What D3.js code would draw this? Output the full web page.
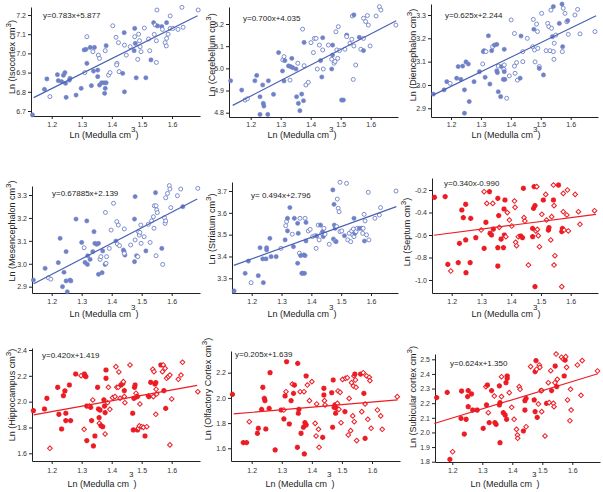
<!DOCTYPE html>
<html><head><meta charset="utf-8">
<script src="https://cdn.jsdelivr.net/npm/d3@7"></script>
<style>body{margin:0;background:#fff}svg{display:block}text{font-family:"Liberation Sans",Arial,sans-serif}</style>
</head><body><svg id="c" width="603" height="492"></svg>
<script>
// ---------------- DATA ----------------
const regions = ["Isocortex","Cerebellum","Diencephalon","Mesencephalon","Striatum","Septum","Hippocampus","Olfactory Cortex","Subicular cortex"];
const equations = ["y=0.783x+5.877","y=0.700x+4.035","y=0.625x+2.244","y=0.67885x+2.139","y= 0.494x+2.796","y=0.340x-0.990","y=0.420x+1.419","y=0.205x+1.639","y=0.624x+1.350"];
const slopes = [0.783,0.700,0.625,0.67885,0.494,0.340,0.420,0.205,0.624];
const intercepts = [5.877,4.035,2.244,2.139,2.796,-0.990,1.419,1.639,1.350];
const fitRange = [1.14,1.685];
const xTicks = [1.2,1.3,1.4,1.5,1.6];
const yTicks = [
 [6.7,6.8,6.9,7.0,7.1,7.2],[4.8,4.9,5.0,5.1,5.2],[2.9,3.0,3.1,3.2,3.3],
 [2.9,3.0,3.1,3.2,3.3],[3.3,3.4,3.5,3.6,3.7],[-1.0,-0.8,-0.6,-0.4,-0.2],
 [1.6,1.8,2.0,2.2,2.4],[1.6,1.8,2.0,2.2],[1.8,1.9,2.0,2.1,2.2,2.3,2.4,2.5]];
// points: [ln medulla, ln region, filled(1)/open(0)]
const isocortex = [[1.136,6.68,1],[1.176,6.813,1],[1.184,6.867,1],[1.194,6.775,0],[1.219,6.889,1],[1.222,6.858,1],[1.233,6.853,1],[1.239,6.886,1],[1.244,6.9,1],[1.246,6.844,1],[1.248,6.771,1],[1.259,6.861,1],[1.261,6.87,1],[1.281,6.783,1],[1.298,6.818,1],[1.31,6.9,0],[1.308,7.018,1],[1.314,7.021,1],[1.317,7.087,0],[1.317,6.948,1],[1.332,6.832,1],[1.328,7.031,1],[1.337,7.009,0],[1.342,7.031,1],[1.339,6.908,1],[1.353,6.913,1],[1.355,6.991,0],[1.359,6.974,0],[1.353,6.879,1],[1.359,6.835,1],[1.366,6.847,1],[1.374,6.847,1],[1.381,6.847,1],[1.378,7.014,0],[1.381,7.04,1],[1.378,6.818,1],[1.376,6.792,1],[1.389,6.887,0],[1.394,6.9,0],[1.403,7.144,0],[1.414,7.084,0],[1.417,6.948,0],[1.416,6.94,0],[1.422,7.056,0],[1.424,6.905,0],[1.436,6.896,1],[1.441,7.108,1],[1.442,6.8,1],[1.442,7.043,0],[1.448,6.991,0],[1.461,7.035,0],[1.476,7.13,1],[1.476,7.087,0],[1.474,7.014,1],[1.478,7.052,1],[1.481,6.873,1],[1.486,6.969,0],[1.489,7.1,0],[1.492,7.066,0],[1.494,7.035,0],[1.497,7.009,0],[1.508,7.132,0],[1.513,6.873,1],[1.522,7.075,0],[1.526,7.014,0],[1.53,6.966,1],[1.539,7.16,1],[1.541,7.099,0],[1.544,7.148,0],[1.55,7.226,0],[1.548,7.066,0],[1.548,6.953,0],[1.552,7.143,1],[1.566,7.14,1],[1.568,7.125,0],[1.577,7.056,0],[1.581,7.039,0],[1.582,7.078,0],[1.582,7.16,1],[1.587,7.1,0],[1.594,7.195,0],[1.594,7.13,0],[1.603,7.13,0],[1.62,7.125,0],[1.633,7.24,0],[1.637,7.136,0],[1.687,7.226,0]];
const cerebellum = [[1.133,4.944,1],[1.17,4.902,1],[1.181,4.857,0],[1.189,4.863,0],[1.214,4.944,1],[1.22,4.968,1],[1.231,4.872,1],[1.231,4.792,1],[1.24,4.925,1],[1.242,4.842,1],[1.244,4.83,1],[1.257,4.792,1],[1.259,4.944,1],[1.276,4.883,1],[1.293,5.071,1],[1.306,4.988,1],[1.307,5.038,0],[1.311,5.053,0],[1.311,4.943,1],[1.314,5.035,1],[1.326,5.011,1],[1.331,4.947,0],[1.333,5.008,1],[1.337,5.045,1],[1.34,5.003,1],[1.351,4.997,1],[1.353,4.872,1],[1.357,5.023,0],[1.359,4.842,1],[1.364,4.809,1],[1.373,5.177,0],[1.37,4.884,1],[1.378,5.012,0],[1.378,5.117,1],[1.376,4.854,1],[1.384,4.925,0],[1.392,4.937,0],[1.401,5.116,0],[1.409,5.071,0],[1.412,5.135,0],[1.418,5.135,0],[1.422,4.997,0],[1.429,5.105,0],[1.433,5.035,1],[1.437,4.961,1],[1.44,5.138,1],[1.44,5.083,0],[1.442,4.997,0],[1.459,5.105,0],[1.47,4.997,1],[1.47,5.041,0],[1.473,5.06,1],[1.473,5.105,1],[1.478,5.023,0],[1.481,5.031,0],[1.484,5.165,0],[1.487,5.083,0],[1.49,5.045,0],[1.492,5.188,0],[1.496,5.08,0],[1.503,4.857,1],[1.509,4.857,1],[1.514,5.086,0],[1.52,5.15,1],[1.52,5.143,0],[1.531,5.113,0],[1.537,5.131,0],[1.539,5.236,0],[1.544,5.241,1],[1.542,4.95,0],[1.544,5.101,0],[1.55,5.015,0],[1.562,5.14,1],[1.567,5.086,0],[1.576,5.226,0],[1.576,5.08,1],[1.576,5.135,0],[1.583,5.211,0],[1.589,5.238,0],[1.592,5.195,0],[1.598,5.101,0],[1.618,5.236,0],[1.629,5.278,0],[1.634,5.263,0],[1.684,5.195,0]];
const diencephalon = [[1.141,2.961,1],[1.177,2.979,1],[1.186,3.014,1],[1.197,3.007,0],[1.219,3.029,1],[1.224,3.079,1],[1.233,3.024,1],[1.239,3.081,1],[1.245,2.979,1],[1.245,2.879,1],[1.25,3.099,1],[1.258,3.09,1],[1.261,2.929,1],[1.277,3.014,1],[1.295,3.057,1],[1.306,3.09,0],[1.308,3.143,1],[1.311,3.147,1],[1.314,3.033,1],[1.317,3.143,0],[1.325,3.211,1],[1.33,3.004,1],[1.336,3.147,1],[1.339,3.164,0],[1.345,3.171,1],[1.353,3.174,1],[1.353,3.061,1],[1.355,3.053,1],[1.358,3.081,0],[1.358,2.971,1],[1.366,2.95,1],[1.369,3.079,1],[1.375,3.024,1],[1.377,3.067,0],[1.378,3.086,0],[1.378,3.153,1],[1.378,3.057,1],[1.38,3.024,1],[1.386,2.943,0],[1.395,3.039,0],[1.401,3.279,0],[1.412,3.221,0],[1.412,3.081,0],[1.414,3.05,0],[1.419,3.096,0],[1.422,3.021,0],[1.431,3.029,1],[1.434,3.21,1],[1.44,3.1,0],[1.44,3.143,0],[1.455,3.2,0],[1.473,3.164,0],[1.475,3.281,0],[1.477,3.239,1],[1.479,3.15,0],[1.481,3.099,0],[1.486,3.261,0],[1.489,3.229,0],[1.49,3.157,0],[1.495,3.079,0],[1.495,3.071,1],[1.503,3.307,0],[1.509,3.043,1],[1.518,3.147,0],[1.523,3.264,0],[1.527,3.25,0],[1.531,3.147,0],[1.534,3.321,0],[1.536,3.243,0],[1.539,3.207,1],[1.542,3.336,1],[1.542,3.143,0],[1.544,3.11,0],[1.545,3.179,0],[1.55,3.214,0],[1.562,3.264,1],[1.571,3.347,1],[1.573,3.164,1],[1.572,3.143,0],[1.575,3.329,0],[1.581,3.307,0],[1.587,3.271,0],[1.59,3.276,1],[1.592,3.217,0],[1.614,3.3,0],[1.623,3.324,0],[1.631,3.219,0],[1.681,3.229,0]];
const mesencephalon = [[1.139,2.929,1],[1.178,2.98,1],[1.189,2.939,0],[1.197,2.933,0],[1.222,3.005,1],[1.228,3.111,1],[1.236,2.9,1],[1.241,2.963,1],[1.248,3.053,1],[1.248,2.925,1],[1.252,2.878,1],[1.261,2.929,1],[1.264,2.925,1],[1.281,3.195,1],[1.3,3.093,1],[1.308,3.07,0],[1.311,3.006,1],[1.317,3.187,1],[1.319,2.997,1],[1.32,3.035,1],[1.328,3.019,1],[1.337,3.053,1],[1.341,3.14,1],[1.344,3.089,1],[1.35,3.085,1],[1.356,3.089,1],[1.356,2.954,1],[1.361,3.019,0],[1.364,3.031,0],[1.368,2.961,1],[1.37,3.056,1],[1.378,2.997,1],[1.379,3.224,0],[1.381,3.002,0],[1.383,3.031,0],[1.392,3.067,0],[1.398,3.147,0],[1.406,3.264,0],[1.414,3.099,1],[1.417,3.184,0],[1.419,3.086,0],[1.422,3.169,0],[1.426,3.079,0],[1.439,3.06,1],[1.441,3.053,1],[1.442,3.152,0],[1.444,3.038,1],[1.442,3.045,0],[1.463,3.082,0],[1.476,3.009,1],[1.476,3.195,1],[1.478,3.293,1],[1.478,3.104,0],[1.483,3.035,1],[1.487,3.031,0],[1.489,3.14,0],[1.492,3.125,0],[1.494,3.137,0],[1.497,3.169,0],[1.498,3.089,0],[1.508,3.118,0],[1.514,3.056,1],[1.522,3.172,0],[1.528,3.093,0],[1.533,3.187,0],[1.539,3.205,0],[1.541,3.155,0],[1.542,3.253,0],[1.546,3.31,1],[1.548,3.253,0],[1.548,3.035,0],[1.55,3.235,0],[1.552,3.223,0],[1.567,3.067,1],[1.57,2.997,0],[1.576,3.201,0],[1.578,3.176,0],[1.58,3.288,0],[1.58,3.187,0],[1.586,3.307,0],[1.592,3.341,0],[1.594,3.326,0],[1.597,3.245,0],[1.619,3.297,0],[1.63,3.326,0],[1.637,3.249,1],[1.687,3.329,0]];
const striatum = [[1.141,3.242,1],[1.178,3.323,1],[1.189,3.379,1],[1.198,3.28,0],[1.222,3.312,1],[1.228,3.44,1],[1.237,3.389,1],[1.239,3.28,1],[1.248,3.389,1],[1.25,3.43,1],[1.25,3.44,1],[1.261,3.483,1],[1.265,3.399,1],[1.282,3.399,1],[1.298,3.437,0],[1.312,3.476,1],[1.314,3.541,0],[1.317,3.56,0],[1.32,3.575,1],[1.32,3.517,1],[1.328,3.624,1],[1.336,3.502,0],[1.34,3.445,1],[1.343,3.575,1],[1.354,3.552,1],[1.354,3.369,1],[1.356,3.506,1],[1.36,3.415,0],[1.362,3.575,0],[1.364,3.404,1],[1.368,3.323,1],[1.371,3.323,1],[1.377,3.323,1],[1.375,3.407,1],[1.379,3.404,1],[1.379,3.575,0],[1.382,3.471,1],[1.382,3.556,1],[1.39,3.517,0],[1.396,3.524,0],[1.404,3.491,0],[1.412,3.495,0],[1.416,3.437,0],[1.418,3.494,1],[1.423,3.544,0],[1.426,3.476,0],[1.431,3.544,1],[1.435,3.506,0],[1.438,3.514,1],[1.44,3.491,1],[1.442,3.529,0],[1.446,3.502,0],[1.46,3.456,0],[1.472,3.705,1],[1.474,3.48,1],[1.476,3.639,1],[1.477,3.544,1],[1.48,3.529,1],[1.48,3.471,0],[1.483,3.468,1],[1.485,3.537,0],[1.487,3.663,0],[1.49,3.621,0],[1.493,3.605,0],[1.496,3.74,0],[1.496,3.514,0],[1.502,3.517,0],[1.511,3.495,1],[1.518,3.735,0],[1.522,3.476,0],[1.527,3.506,0],[1.532,3.468,0],[1.535,3.517,0],[1.539,3.499,0],[1.541,3.526,0],[1.543,3.575,1],[1.543,3.491,0],[1.546,3.506,1],[1.55,3.514,0],[1.554,3.529,0],[1.561,3.529,1],[1.569,3.529,1],[1.572,3.506,0],[1.574,3.529,0],[1.577,3.593,0],[1.578,3.471,1],[1.58,3.563,0],[1.585,3.499,0],[1.591,3.694,0],[1.593,3.476,0],[1.613,3.575,0],[1.628,3.59,0],[1.632,3.624,0],[1.684,3.7,0]];
const septum = [[1.142,-0.265,1],[1.178,-0.259,1],[1.187,-0.861,1],[1.197,-0.92,0],[1.222,-0.846,1],[1.226,-0.674,1],[1.234,-0.378,1],[1.239,-0.446,1],[1.247,-0.327,1],[1.247,-0.644,1],[1.248,-0.935,1],[1.262,-0.846,1],[1.264,-0.452,1],[1.281,-0.624,1],[1.299,-0.556,0],[1.309,-0.215,0],[1.309,-0.719,1],[1.315,-0.487,1],[1.318,-0.319,0],[1.327,-0.215,1],[1.329,-0.585,1],[1.334,-0.6,1],[1.338,-0.319,0],[1.34,-0.547,1],[1.355,-0.274,1],[1.355,-0.713,1],[1.355,-0.876,1],[1.358,-0.428,1],[1.36,-0.532,0],[1.366,-0.636,1],[1.374,-0.713,1],[1.376,-0.369,1],[1.377,-0.6,1],[1.379,-0.289,1],[1.382,-0.615,0],[1.387,-0.401,0],[1.394,-0.467,0],[1.402,-0.52,0],[1.411,-0.298,0],[1.413,-0.354,0],[1.415,-0.665,0],[1.418,-0.695,0],[1.424,-0.615,0],[1.432,-0.609,1],[1.438,-0.624,1],[1.441,-0.185,1],[1.443,-0.446,0],[1.446,-0.476,0],[1.458,-0.867,0],[1.472,-0.541,1],[1.472,-0.615,1],[1.475,-0.363,1],[1.477,-0.17,1],[1.48,-0.339,1],[1.48,-1.059,1],[1.486,-0.17,0],[1.483,-0.564,0],[1.488,-0.55,0],[1.491,-0.606,0],[1.495,-0.704,0],[1.503,-0.416,0],[1.508,-0.289,1],[1.516,-0.239,0],[1.519,-0.467,0],[1.525,-0.556,1],[1.527,-0.535,1],[1.533,-0.644,0],[1.536,-0.437,0],[1.542,-0.156,0],[1.542,-0.289,1],[1.544,-0.339,0],[1.544,-0.867,0],[1.547,-0.784,0],[1.559,-0.156,1],[1.57,-0.57,1],[1.572,-0.541,1],[1.575,-0.393,0],[1.575,-0.23,0],[1.578,-0.556,0],[1.587,-0.422,0],[1.589,-0.2,0],[1.592,-0.564,0],[1.57,-1.059,0],[1.615,-0.239,0],[1.626,-0.393,0],[1.631,-0.505,0],[1.68,-0.384,0]];
const hippocampus = [[1.139,1.93,1],[1.176,1.943,1],[1.184,2.026,1],[1.194,1.639,0],[1.22,2.111,1],[1.224,1.902,1],[1.233,1.788,1],[1.239,2.046,1],[1.244,2.083,1],[1.247,1.91,1],[1.247,1.853,1],[1.259,2.129,1],[1.263,1.853,1],[1.28,2.214,1],[1.298,2.201,0],[1.308,1.786,0],[1.309,2.214,1],[1.311,2.201,1],[1.314,2.194,1],[1.317,1.966,1],[1.317,1.698,1],[1.326,1.966,0],[1.33,1.956,1],[1.333,1.853,1],[1.337,2.013,0],[1.339,1.657,1],[1.344,1.734,1],[1.353,2.111,1],[1.356,1.943,1],[1.358,1.876,1],[1.359,1.832,0],[1.361,1.935,1],[1.364,1.814,1],[1.37,1.806,1],[1.374,2.013,1],[1.376,1.966,1],[1.378,1.75,0],[1.378,1.915,1],[1.381,2.245,1],[1.381,2.181,1],[1.386,1.992,0],[1.389,2.111,0],[1.394,1.941,0],[1.403,2.031,0],[1.411,2.039,0],[1.414,2.271,0],[1.417,2.111,0],[1.422,2.111,0],[1.424,2.23,0],[1.428,2.026,0],[1.431,2.129,1],[1.437,2.142,1],[1.439,2.155,0],[1.442,2.085,1],[1.442,2.039,0],[1.444,1.992,0],[1.461,2.284,0],[1.47,1.91,1],[1.472,1.781,1],[1.474,2.026,1],[1.476,2.111,1],[1.478,2.129,1],[1.481,2.065,0],[1.483,2.039,0],[1.486,2.039,1],[1.486,1.781,1],[1.489,1.794,0],[1.492,1.812,0],[1.494,1.982,0],[1.5,1.806,0],[1.506,1.801,0],[1.511,1.734,1],[1.517,1.806,0],[1.522,2.044,0],[1.524,2.039,1],[1.53,2.15,1],[1.537,2.25,0],[1.539,2.039,0],[1.541,2.232,0],[1.544,2.137,1],[1.547,2.147,1],[1.547,1.902,0],[1.548,2.096,0],[1.55,2.059,0],[1.564,2.284,1],[1.569,2.232,0],[1.572,2.284,0],[1.574,2.085,1],[1.578,2.258,0],[1.58,1.948,1],[1.583,2.181,0],[1.589,2.194,0],[1.594,2.206,0],[1.594,1.665,0],[1.6,2.021,0],[1.622,2.173,0],[1.631,2.206,0],[1.636,2.305,0],[1.687,2.077,0]];
const olfactory = [[1.136,2.028,1],[1.172,1.645,1],[1.183,1.645,1],[1.192,1.811,0],[1.219,1.719,1],[1.222,1.759,1],[1.233,1.909,1],[1.237,2.084,1],[1.242,1.996,1],[1.244,1.978,1],[1.247,1.753,1],[1.258,1.917,1],[1.261,2.2,1],[1.278,1.587,1],[1.298,1.904,1],[1.307,1.904,0],[1.307,1.833,1],[1.311,2.015,1],[1.314,2.049,0],[1.316,2.287,1],[1.325,1.793,1],[1.331,1.978,1],[1.335,2.11,0],[1.339,2.036,1],[1.342,2.102,1],[1.352,1.608,1],[1.353,2.274,1],[1.355,1.878,1],[1.357,1.909,1],[1.361,2.049,0],[1.364,1.719,1],[1.372,1.767,1],[1.374,2.049,0],[1.375,1.555,1],[1.377,1.803,1],[1.381,2.174,1],[1.381,1.785,1],[1.385,2.102,0],[1.392,1.978,0],[1.4,2.129,0],[1.411,1.798,0],[1.414,1.698,0],[1.416,1.952,0],[1.422,1.751,0],[1.424,1.608,0],[1.436,1.687,1],[1.44,2.076,1],[1.44,2.023,1],[1.442,1.978,0],[1.444,1.944,0],[1.466,2.041,1],[1.469,1.767,1],[1.471,2.142,1],[1.474,1.925,1],[1.477,1.944,1],[1.479,1.878,1],[1.482,1.917,1],[1.485,1.957,0],[1.487,2.055,0],[1.49,1.909,0],[1.494,2.044,0],[1.497,1.803,0],[1.502,2.147,0],[1.51,1.891,1],[1.512,2.155,0],[1.518,2.16,0],[1.521,1.706,0],[1.524,1.996,0],[1.529,1.74,0],[1.532,2.121,0],[1.536,1.857,0],[1.538,2.094,0],[1.54,2.174,0],[1.541,1.811,0],[1.543,2.189,1],[1.545,2.142,0],[1.547,2.084,0],[1.549,1.661,0],[1.562,2.189,1],[1.566,1.891,0],[1.571,2.2,0],[1.573,2.036,1],[1.577,1.952,0],[1.577,1.679,1],[1.582,2.174,0],[1.586,1.83,0],[1.591,2.163,0],[1.593,2.137,0],[1.597,1.759,0],[1.618,1.904,0],[1.629,1.857,0],[1.634,1.751,0],[1.684,2.01,0]];
const subicular = [[1.148,2.238,1],[1.183,2.274,1],[1.192,1.816,1],[1.201,1.868,0],[1.229,2.096,1],[1.231,2.283,1],[1.24,1.989,1],[1.246,2.09,1],[1.251,2.245,1],[1.253,2.286,1],[1.253,2.176,1],[1.264,2.263,1],[1.268,2.153,1],[1.283,2.153,1],[1.303,2.028,1],[1.312,2.313,0],[1.314,2.188,1],[1.317,2.324,1],[1.32,2.135,0],[1.323,2.067,1],[1.331,2.286,1],[1.34,2.249,0],[1.342,2.067,1],[1.346,2.055,1],[1.357,2.188,1],[1.357,2.318,1],[1.359,1.93,1],[1.359,2.204,1],[1.364,2.381,0],[1.364,2.245,0],[1.37,2.135,1],[1.376,2.119,1],[1.379,2.34,1],[1.381,2.09,1],[1.383,2.37,1],[1.383,2.386,1],[1.39,2.272,0],[1.398,2.172,0],[1.406,2.09,0],[1.414,2.021,0],[1.417,1.982,0],[1.418,1.96,0],[1.423,2.313,0],[1.426,2.295,0],[1.437,2.01,1],[1.442,2.217,1],[1.442,2.153,1],[1.446,2.039,0],[1.446,2.233,1],[1.461,2.45,0],[1.473,2.222,1],[1.476,2.142,1],[1.476,2.416,1],[1.479,2.491,1],[1.481,2.432,0],[1.483,2.103,1],[1.487,2.194,0],[1.49,2.461,0],[1.492,2.445,0],[1.496,2.286,1],[1.498,2.286,0],[1.498,2.142,0],[1.509,1.976,0],[1.514,2.199,1],[1.52,2.34,0],[1.523,2.204,0],[1.528,2.422,0],[1.531,2.286,1],[1.537,2.199,0],[1.539,2.176,0],[1.542,2.34,0],[1.543,2.454,1],[1.546,2.536,0],[1.548,2.313,1],[1.55,2.363,0],[1.564,2.514,0],[1.57,2.5,0],[1.573,2.386,1],[1.576,2.495,1],[1.578,2.518,0],[1.581,2.445,0],[1.584,2.222,0],[1.592,2.08,0],[1.594,2.295,0],[1.596,2.153,0],[1.617,2.461,0],[1.629,2.254,0],[1.633,2.491,0],[1.684,2.42,0]];
const seriesPoints = [isocortex,cerebellum,diencephalon,mesencephalon,striatum,septum,hippocampus,olfactory,subicular];

// ---------------- LAYOUT (pixels) ----------------
const layout = [
 {L:31,R:200,T:7,B:116,x12:51.7,x16:172,ya:[7.2,15],yb:[6.7,111],tX:104,yX:12,yY:57,eX:43,eY:18},
 {L:229,R:398,T:7,B:117,x12:250.7,x16:370.7,ya:[5.2,24],yb:[4.8,112.7],tX:302,yX:212,yY:55,eX:243,eY:21},
 {L:431,R:598,T:4,B:117,x12:451,x16:570.7,ya:[3.3,15],yb:[2.9,108.3],tX:506,yX:413,yY:55,eX:445,eY:18},
 {L:32,R:200,T:186,B:293,x12:51.7,x16:171.7,ya:[3.3,195],yb:[2.9,286.7],tX:104,yX:12,yY:231,eX:52,eY:196},
 {L:232,R:398,T:182,B:293,x12:251.7,x16:371,ya:[3.7,191],yb:[3.3,278.3],tX:302,yX:212,yY:229,eX:251,eY:198},
 {L:432,R:598,T:178,B:293,x12:451.7,x16:570.7,ya:[-0.2,190],yb:[-1.0,280],tX:506,yX:407,yY:232,eX:444,eY:186},
 {L:32,R:200,T:348,B:461,x12:51.7,x16:171.7,ya:[2.4,350],yb:[1.6,453.3],tX:102,yX:12,yY:395,eX:42,eY:358},
 {L:231,R:400,T:351,B:461,x12:251.7,x16:372,ya:[2.2,372.7],yb:[1.6,448.3],tX:300,yX:208,yY:389,eX:235,eY:357},
 {L:435,R:600,T:354,B:462,x12:452.3,x16:572.3,ya:[2.5,359.3],yb:[1.8,461.7],tX:505,yX:413,yY:397,eX:450,eY:366}
];
const rowText = [{tick:127,title:138,sup:-6},{tick:304,title:317,sup:-7},{tick:473,title:487,sup:-10}];

const BLUE = "#6f81c6", BLUE_LINE = "#4a60b4", RED = "#ec1c24";
const svg = d3.select("#c");
const fmt = d => d.toFixed(1);

seriesPoints.forEach((pts, i) => {
  const g = layout[i], rt = rowText[Math.floor(i/3)];
  const red = i >= 5;
  const lineCol = red ? RED : BLUE_LINE;
  const x0 = d3.scaleLinear().domain([1.2,1.6]).range([g.x12,g.x16]);
  const y0 = d3.scaleLinear().domain([g.ya[0],g.yb[0]]).range([g.ya[1],g.yb[1]]);
  const x = d3.scaleLinear().domain([x0.invert(g.L), x0.invert(g.R)]).range([g.L,g.R]);
  const y = d3.scaleLinear().domain([y0.invert(g.B), y0.invert(g.T)]).range([g.B,g.T]);
  const pg = svg.append("g");

  // axes
  const ax = pg.append("g").attr("transform",`translate(0,${g.B})`)
    .call(d3.axisBottom(x).tickValues(xTicks).tickFormat(fmt).tickSizeInner(3).tickSizeOuter(0).tickPadding(2));
  const ay = pg.append("g").attr("transform",`translate(${g.L},0)`)
    .call(d3.axisLeft(y).tickValues(yTicks[i]).tickFormat(fmt).tickSizeInner(3).tickSizeOuter(0).tickPadding(2));
  [ax,ay].forEach(a=>{
    a.select(".domain").attr("stroke","#222").attr("stroke-width",1);
    a.selectAll(".tick line").attr("stroke","#222");
    a.selectAll(".tick text").attr("fill","#333").style("font-size","7px").style("font-family",'"Liberation Sans",Arial,sans-serif');
  });
  ax.selectAll(".tick text").attr("dy",null).attr("y",null).attr("transform",`translate(0,${rt.tick-g.B})`);

  // points
  const star = d3.symbol(d3.symbolCross,15)();
  pts.forEach(p => {
    const cx = x(p[0]), cy = y(p[1]);
    if (!red) {
      pg.append("circle").attr("cx",cx).attr("cy",cy).attr("r",p[2]?2.1:2.0)
        .attr("fill",p[2]?BLUE:"#fff").attr("stroke",BLUE).attr("stroke-width",p[2]?0.6:0.9);
    } else if (p[2]) {
      pg.append("path").attr("transform",`translate(${cx},${cy})`).attr("d",star).attr("fill",RED);
      pg.append("path").attr("transform",`translate(${cx},${cy}) rotate(45)`).attr("d",star).attr("fill",RED);
      pg.append("circle").attr("cx",cx).attr("cy",cy).attr("r",1.8).attr("fill",RED);
    } else {
      pg.append("path").attr("transform",`translate(${cx},${cy}) rotate(45)`)
        .attr("d",d3.symbol(d3.symbolSquare,11)()).attr("fill","#fff").attr("stroke",RED).attr("stroke-width",1);
    }
  });

  // fit line
  pg.append("line")
    .attr("x1",x(fitRange[0])).attr("y1",y(slopes[i]*fitRange[0]+intercepts[i]))
    .attr("x2",x(fitRange[1])).attr("y2",y(slopes[i]*fitRange[1]+intercepts[i]))
    .attr("stroke",lineCol).attr("stroke-width",1.2);

  // equation
  pg.append("text").attr("x",g.eX).attr("y",g.eY).attr("fill","#222").style("font-size","8px").text(equations[i]);

  // x title
  const xt = pg.append("text").attr("x",g.tX).attr("y",rt.title).attr("text-anchor","middle").attr("fill","#222").style("font-size","9px");
  xt.append("tspan").text("Ln (Medulla cm");
  xt.append("tspan").attr("dy",rt.sup).style("font-size","8px").text("3");
  xt.append("tspan").attr("dy",-rt.sup).text(")");

  // y title
  const yt = pg.append("text").attr("transform",`translate(${g.yX+3},${g.yY}) rotate(-90)`).attr("text-anchor","middle").attr("fill","#222").style("font-size","9px");
  yt.append("tspan").text(`Ln (${regions[i]} cm`);
  yt.append("tspan").attr("dy",-4).style("font-size","8px").text("3");
  yt.append("tspan").attr("dy",4).text(")");
});
</script>
</body></html>
